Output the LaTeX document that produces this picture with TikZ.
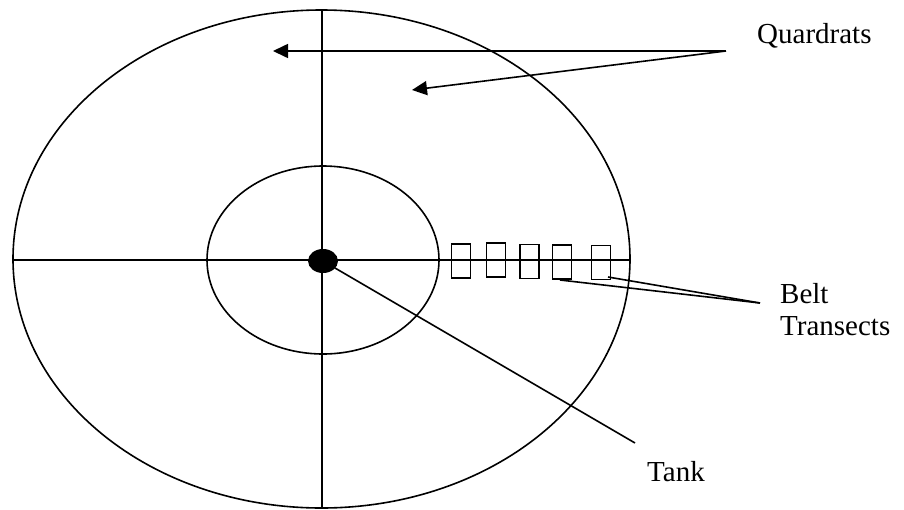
\documentclass[tikz,border=0pt]{standalone}
\usepackage{fontspec}
\setmainfont{Liberation Serif}
\usetikzlibrary{arrows.meta,shapes.geometric}
\begin{document}
\begin{tikzpicture}[x=1pt,y=-1pt,
  ln/.style={line width=1.6pt,black},
  lbl/.style={font=\fontsize{29}{32}\selectfont,anchor=base west,inner sep=0pt},
  belt/.style={draw,line width=1.6pt,minimum width=19pt,minimum height=34pt,inner sep=0pt},
  arr/.style={ln,-{Triangle[length=15pt,width=14pt]}}]
\useasboundingbox (0,0) rectangle (904,509);
% ellipses
\draw[ln] (321.5,259) ellipse [x radius=308.5, y radius=249];
\draw[ln] (323,260) ellipse [x radius=116, y radius=94];
% axes
\coordinate (W) at (13,260);
\coordinate (E) at (630,260);
\coordinate (N) at (322,10);
\coordinate (S) at (322,508);
\draw[ln] (W) -- (E);
\draw[ln] (N) -- (S);
% tank
\node[ellipse,fill=black,minimum width=30pt,minimum height=24pt,inner sep=0pt] (tank) at (323,261) {};
% belt transects
\node[belt] (b1) at (461,261) {};
\node[belt] (b2) at (496,260) {};
\node[belt] (b3) at (529.5,261.5) {};
\node[belt] (b4) at (562,262) {};
\node[belt] (b5) at (601,262.5) {};
% labels
\node[lbl] (quad) at (757,43) {Quardrats};
\node[lbl] (beltl) at (780,303) {Belt};
\node[lbl] (trans) at (780,335) {Transects};
\node[lbl] (tankl) at (647,481) {Tank};
% connectors
\coordinate (qsrc) at (726,51);
\coordinate (q1) at (273,51);
\coordinate (q2) at (412,90);
\draw[arr] (qsrc) -- (q1);
\draw[arr] (qsrc) -- (q2);
\coordinate (bsrc) at (760,303);
\coordinate (b4p) at (560,280);
\coordinate (b5p) at (608,277);
\draw[ln] (bsrc) -- (b4p);
\draw[ln] (bsrc) -- (b5p);
\coordinate (tend) at (635,443);
\draw[ln] (tank.center) -- (tend);
\end{tikzpicture}
\end{document}
